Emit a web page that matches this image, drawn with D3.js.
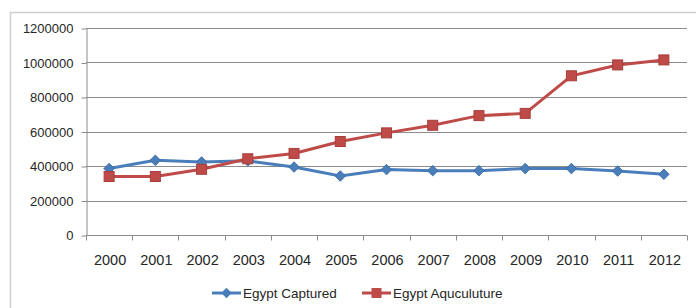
<!DOCTYPE html>
<html>
<head>
<meta charset="utf-8">
<script src="https://cdn.jsdelivr.net/npm/d3@7"></script>
<style>
  body { margin: 0; background: #fff; }
  text { font-family: "Liberation Sans", Arial, sans-serif; fill: #262626; }
</style>
</head>
<body>
<script>
"use strict";
(function () {

// data
const years = ["2000", "2001", "2002", "2003", "2004", "2005", "2006",
    "2007", "2008", "2009", "2010", "2011", "2012"]
const captured = [385000, 433000, 423000, 430000, 394000, 342000, 379000,
    373000, 373000, 385000, 385000, 371000, 352000]
const aquaculture = [339000, 339000, 381000, 442000, 473000, 542000, 592000,
    636000, 692000, 705000, 923000, 986000, 1015000]
const yTicks = [0, 200000, 400000, 600000, 800000, 1000000, 1200000]
const seriesNames = ["Egypt Captured", "Egypt Aquculuture"]

const m = {
    width: 696,
    height: 308,
    left: 86,
    right: 687,
    top: 28,
    bottom: 235
}

const svg = d3.select("body").append('svg')
    .attr('width', m.width)
    .attr('height', m.height)

// chart border (cut off at right and bottom in the source)
svg.append('rect')
    .attr('x', 10.5)
    .attr('y', 12.5)
    .attr('width', 720)
    .attr('height', 320)
    .attr('fill', 'none')
    .attr('stroke', '#cfcfcf')
    .attr('stroke-width', 1.5)

const x = d3.scaleBand()
    .domain(years)
    .range([m.left, m.right])

const y = d3.scaleLinear()
    .domain([0, 1200000])
    .range([m.bottom, m.top])

// gridlines
svg.append('g')
    .selectAll('line')
    .data(yTicks.slice(1))
    .enter()
    .append('line')
    .attr('x1', m.left)
    .attr('x2', m.right)
    .attr('y1', d => Math.round(y(d)) + 0.5)
    .attr('y2', d => Math.round(y(d)) + 0.5)
    .attr('stroke', '#8c8c8c')
    .attr('stroke-width', 1)

// y axis
const yAxis = svg.append('g')
    .attr('transform', `translate(${m.left + 0.5},0.5)`)
    .call(d3.axisLeft(y).tickValues(yTicks).tickSize(5).tickSizeOuter(0).tickFormat(d3.format('d')))
yAxis.selectAll('line, path').attr('stroke', '#8c8c8c')
yAxis.selectAll('text')
    .attr('x', -13)
    .style('font-size', '13px')
    .style('font-family', '"Liberation Sans", Arial, sans-serif')
    .attr('fill', '#262626')

// x axis, ticks sit between categories
const xAxis = svg.append('g')
    .attr('transform', `translate(0,${m.bottom + 0.5})`)
xAxis.append('line')
    .attr('x1', m.left)
    .attr('x2', m.right)
    .attr('stroke', '#8c8c8c')
xAxis.selectAll('.tick')
    .data(years.concat(['end']))
    .enter()
    .append('line')
    .attr('x1', (d, i) => Math.round(m.left + i * x.step()) + 0.5)
    .attr('x2', (d, i) => Math.round(m.left + i * x.step()) + 0.5)
    .attr('y1', 0)
    .attr('y2', 5)
    .attr('stroke', '#8c8c8c')
xAxis.selectAll('text')
    .data(years)
    .enter()
    .append('text')
    .attr('x', d => x(d) + x.bandwidth() / 2 + 1)
    .attr('y', 29)
    .attr('text-anchor', 'middle')
    .style('font-size', '14.5px')
    .text(d => d)

const cx = d => x(d) + x.bandwidth() / 2
const line = d3.line()
    .x((d, i) => cx(years[i]))
    .y(d => y(d))

const blue = '#4a7ebb'
const red = '#be4b48'

svg.append('path')
    .datum(captured)
    .attr('d', line)
    .attr('fill', 'none')
    .attr('stroke', blue)
    .attr('stroke-width', 3)

svg.append('path')
    .datum(aquaculture)
    .attr('d', line)
    .attr('fill', 'none')
    .attr('stroke', red)
    .attr('stroke-width', 3)

const diamond = d3.symbol().type(d3.symbolDiamond2).size(70)

svg.append('g')
    .selectAll('path')
    .data(captured)
    .enter()
    .append('path')
    .attr('d', diamond)
    .attr('transform', (d, i) => `translate(${cx(years[i])},${y(d)})`)
    .attr('fill', blue)
    .attr('stroke', '#3d6fa8')

svg.append('g')
    .selectAll('rect')
    .data(aquaculture)
    .enter()
    .append('rect')
    .attr('x', (d, i) => cx(years[i]) - 5)
    .attr('y', d => y(d) - 5)
    .attr('width', 10)
    .attr('height', 10)
    .attr('fill', red)
    .attr('stroke', '#a83e3c')

// legend
const legend = svg.append('g')
    .attr('transform', 'translate(212,293)')
const legendX = [0, 150]
seriesNames.forEach(function (name, i) {
    const g = legend.append('g').attr('transform', `translate(${legendX[i]},0)`)
    const col = i === 0 ? blue : red
    g.append('line')
        .attr('x1', 0).attr('x2', 29)
        .attr('stroke', col)
        .attr('stroke-width', 3)
    if (i === 0) {
        g.append('path')
            .attr('d', diamond)
            .attr('transform', 'translate(14.5,0)')
            .attr('fill', blue)
    } else {
        g.append('rect')
            .attr('x', 9.5).attr('y', -5)
            .attr('width', 10).attr('height', 10)
            .attr('fill', red)
    }
    g.append('text')
        .attr('x', 31)
        .attr('y', 5)
        .style('font-size', '13.5px')
        .text(name)
})

})();
</script>
</body>
</html>
